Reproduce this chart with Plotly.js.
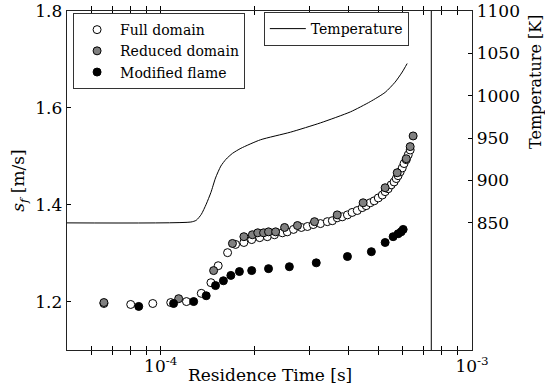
<!DOCTYPE html>
<html>
<head>
<meta charset="utf-8">
<script src="https://cdn.plot.ly/plotly-3.0.1.min.js"></script>
<style>html,body{margin:0;padding:0;background:#fff;}#chart{width:545px;height:392px;}</style>
</head>
<body>
<div id="chart"></div>
<script>
// Full domain (open circles)
const fullTime = [6.57e-5, 8.01e-5, 9.43e-5, 1.077e-4, 1.21e-4, 1.35e-4, 1.45e-4, 1.53e-4, 1.64e-4, 1.74e-4,
  1.85e-4, 1.96e-4, 2.08e-4, 2.20e-4, 2.32e-4, 2.46e-4, 2.55e-4, 2.67e-4, 2.83e-4, 2.96e-4,
  3.09e-4, 3.26e-4, 3.43e-4, 3.56e-4, 3.69e-4, 3.83e-4, 3.98e-4, 4.12e-4, 4.28e-4, 4.44e-4,
  4.57e-4, 4.71e-4, 4.85e-4, 5.00e-4, 5.15e-4, 5.26e-4, 5.38e-4, 5.50e-4, 5.62e-4, 5.71e-4,
  5.79e-4, 5.88e-4, 5.97e-4, 6.05e-4, 6.15e-4, 6.24e-4, 6.33e-4];
const fullSf = [1.196, 1.194, 1.196, 1.198, 1.200, 1.217, 1.239, 1.274, 1.301, 1.318,
  1.322, 1.328, 1.332, 1.334, 1.338, 1.342, 1.344, 1.349, 1.353, 1.355,
  1.359, 1.361, 1.365, 1.367, 1.373, 1.375, 1.379, 1.384, 1.388, 1.394,
  1.398, 1.404, 1.408, 1.414, 1.420, 1.427, 1.433, 1.441, 1.447, 1.454,
  1.460, 1.468, 1.476, 1.485, 1.493, 1.503, 1.513];
// Reduced domain (grey circles)
const redTime = [6.57e-5, 1.142e-4, 1.479e-4, 1.70e-4, 1.85e-4, 1.97e-4, 2.05e-4, 2.14e-4, 2.22e-4, 2.34e-4,
  2.50e-4, 2.75e-4, 3.12e-4, 3.69e-4, 4.47e-4, 5.26e-4, 5.75e-4, 6.15e-4, 6.33e-4, 6.47e-4];
const redSf = [1.198, 1.206, 1.264, 1.320, 1.334, 1.338, 1.342, 1.342, 1.344, 1.344,
  1.353, 1.357, 1.365, 1.379, 1.404, 1.435, 1.466, 1.495, 1.520, 1.542];
// Modified flame (black circles)
const modTime = [8.50e-5, 1.10e-4, 1.276e-4, 1.40e-4, 1.50e-4, 1.59e-4, 1.68e-4, 1.79e-4, 1.96e-4, 2.22e-4,
  2.59e-4, 3.16e-4, 3.98e-4, 4.75e-4, 5.26e-4, 5.58e-4, 5.79e-4, 5.92e-4, 6.01e-4];
const modSf = [1.190, 1.196, 1.200, 1.212, 1.233, 1.243, 1.254, 1.262, 1.264, 1.268,
  1.272, 1.280, 1.293, 1.303, 1.322, 1.334, 1.340, 1.344, 1.349];
// Temperature (right axis)
const tempTime = [5.0e-5, 1.25e-4, 1.30e-4, 1.35e-4, 1.40e-4, 1.45e-4, 1.50e-4, 1.56e-4, 1.62e-4, 1.70e-4,
  1.81e-4, 2.09e-4, 2.61e-4, 3.26e-4, 4.07e-4, 4.71e-4, 5.26e-4, 5.66e-4, 5.97e-4, 6.19e-4];
const tempK = [850, 851, 853, 860, 872, 886, 903, 917, 925, 932,
  938, 948, 957, 968, 981, 993, 1004, 1016, 1028, 1038];
// Vertical marker line
const markerTime = [7.4e-4, 7.4e-4];
const markerK = [700, 1100];

const xTickVals = [5e-5, 6e-5, 7e-5, 8e-5, 9e-5, 1e-4, 2e-4, 3e-4, 4e-4, 5e-4, 6e-4, 7e-4, 8e-4, 9e-4, 1e-3];
const xTickText = ['', '', '', '', '', '10<sup>-4</sup>', '', '', '', '', '', '', '', '', '10<sup>-3</sup>'];
const yTickVals = [1.2, 1.4, 1.6, 1.8];
const y2TickVals = [850, 900, 950, 1000, 1050, 1100];

const FONT = "'DejaVu Serif', 'Liberation Serif', serif";
const mk = (fill) => ({symbol: 'circle', size: 8, color: fill, line: {color: '#000', width: 1}});

const traces = [
  {x: fullTime, y: fullSf, type: 'scatter', mode: 'markers', name: 'Full domain', marker: mk('#ffffff'), legend: 'legend'},
  {x: redTime, y: redSf, type: 'scatter', mode: 'markers', name: 'Reduced domain', marker: mk('#808080'), legend: 'legend'},
  {x: modTime, y: modSf, type: 'scatter', mode: 'markers', name: 'Modified flame', marker: mk('#000000'), legend: 'legend'},
  {x: tempTime, y: tempK, type: 'scatter', mode: 'lines', name: 'Temperature', yaxis: 'y2',
   line: {color: '#000', width: 1, shape: 'spline', smoothing: 0.6}, legend: 'legend2'},
  {x: markerTime, y: markerK, type: 'scatter', mode: 'lines', yaxis: 'y2', showlegend: false,
   line: {color: '#000', width: 1}}
];

const layout = {
  width: 545, height: 392,
  margin: {l: 67, r: 73, t: 11, b: 42},
  paper_bgcolor: '#fff', plot_bgcolor: '#fff',
  font: {family: FONT, size: 17, color: '#000'},
  showlegend: true,
  xaxis: {
    type: 'log', range: [Math.log10(5e-5), -3],
    tickvals: xTickVals, ticktext: xTickText,
    ticks: 'inside', ticklen: 4, tickcolor: '#000', tickwidth: 1,
    showline: true, linecolor: '#222', linewidth: 1.3, mirror: 'allticks',
    showgrid: false, zeroline: false,
    tickfont: {family: FONT, size: 17}
  },
  yaxis: {
    range: [1.1, 1.8], tickvals: yTickVals, ticktext: ['1.2', '1.4', '1.6', '1.8'],
    ticks: 'inside', ticklen: 4, tickcolor: '#000',
    showline: true, linecolor: '#222', linewidth: 1.3,
    showgrid: false, zeroline: false,
    tickfont: {family: FONT, size: 17},
    title: {text: '<i>s</i><sub><i>f</i></sub> [m/s]', font: {family: FONT, size: 17}, standoff: 6}
  },
  yaxis2: {
    overlaying: 'y', side: 'right', range: [700, 1100], tickvals: y2TickVals,
    ticks: 'inside', ticklen: 4, tickcolor: '#000',
    showline: true, linecolor: '#222', linewidth: 1.3,
    showgrid: false, zeroline: false,
    tickfont: {family: FONT, size: 17}
  },
  legend: {
    x: 0.015, y: 0.994, xanchor: 'left', yanchor: 'top',
    bgcolor: '#fff', bordercolor: '#333', borderwidth: 1,
    font: {family: FONT, size: 14}, tracegroupgap: 0, itemwidth: 36
  },
  legend2: {
    x: 0.486, y: 0.997, xanchor: 'left', yanchor: 'top',
    bgcolor: '#fff', bordercolor: '#333', borderwidth: 1,
    font: {family: FONT, size: 14}, itemwidth: 36
  },
  annotations: [{
    text: 'Temperature [K]', textangle: -90, xref: 'paper', yref: 'paper',
    x: 1.155, y: 0.79, xanchor: 'center', yanchor: 'middle', showarrow: false,
    font: {family: FONT, size: 16}
  }, {
    text: 'Residence Time [s]', xref: 'paper', yref: 'paper',
    x: 0.501, y: -0.074, xanchor: 'center', yanchor: 'middle', showarrow: false,
    font: {family: FONT, size: 17}
  }]
};

Plotly.newPlot('chart', traces, layout, {displayModeBar: false, staticPlot: true});
</script>
</body>
</html>
